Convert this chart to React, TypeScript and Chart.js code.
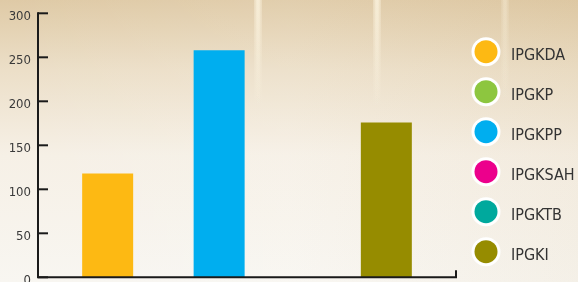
import React, { useEffect, useRef } from "react";
import { Chart, registerables } from "chart.js";

Chart.register(...registerables);

const categories: string[] = [""];
const seriesNames: string[] = ["IPGKDA", "IPGKP", "IPGKPP", "IPGKSAH", "IPGKTB", "IPGKI"];
const seriesValues: number[] = [118, 0, 258, 0, 0, 176];
const seriesColors: string[] = ["#FDB913", "#8DC63F", "#00AEEF", "#EC008C", "#00A99D", "#968C00"];
const yTicks: number[] = [0, 50, 100, 150, 200, 250, 300];

const FONT = "'DejaVu Sans Condensed', 'DejaVu Sans', sans-serif";

const backgroundPlugin = {
  id: "bgPlugin",
  beforeDraw(chart: any) {
    const ctx = chart.ctx as CanvasRenderingContext2D;
    const w = chart.width;
    const h = chart.height;
    ctx.save();
    const g = ctx.createLinearGradient(0, 0, 0, h);
    g.addColorStop(0, "#dfcaa6");
    g.addColorStop(0.25, "#ecdfc8");
    g.addColorStop(0.55, "#f6f0e6");
    g.addColorStop(1, "#f8f6f1");
    ctx.fillStyle = g;
    ctx.fillRect(0, 0, w, h);
    const g2 = ctx.createLinearGradient(0, 0, w, 0);
    g2.addColorStop(0, "rgba(255,255,255,0.0)");
    g2.addColorStop(0.5, "rgba(255,255,255,0.08)");
    g2.addColorStop(1, "rgba(200,170,120,0.08)");
    ctx.fillStyle = g2;
    ctx.fillRect(0, 0, w, h);
    // soft light streaks
    const streaks = [258, 377, 505];
    streaks.forEach((sx, i) => {
      const a = i === 2 ? 0.15 : 0.35;
      const layers = [8, 5, 3];
      layers.forEach((lw) => {
        const sg = ctx.createLinearGradient(0, 0, 0, 110);
        sg.addColorStop(0, `rgba(255,248,230,${a})`);
        sg.addColorStop(1, "rgba(255,248,230,0)");
        ctx.fillStyle = sg;
        ctx.fillRect(sx - lw / 2, 0, lw, 110);
      });
    });
    ctx.restore();
  },
};

const axesPlugin = {
  id: "axesPlugin",
  afterDatasetsDraw(chart: any) {
    const ctx = chart.ctx as CanvasRenderingContext2D;
    const area = chart.chartArea;
    const y = chart.scales.y;
    ctx.save();
    ctx.strokeStyle = "#1a1a1a";
    ctx.lineWidth = 2;
    ctx.beginPath();
    ctx.moveTo(area.left, y.getPixelForValue(300) - 1);
    ctx.lineTo(area.left, area.bottom);
    ctx.lineTo(area.right, area.bottom);
    ctx.lineTo(area.right, area.bottom - 7);
    ctx.stroke();
    yTicks.forEach((v) => {
      const py = y.getPixelForValue(v);
      ctx.beginPath();
      ctx.moveTo(area.left, py);
      ctx.lineTo(area.left + 10, py);
      ctx.stroke();
    });
    ctx.restore();
  },
};

const legendPlugin = {
  id: "customLegend",
  afterDraw(chart: any) {
    const ctx = chart.ctx as CanvasRenderingContext2D;
    ctx.save();
    chart.data.datasets.forEach((ds: any, i: number) => {
      const cx = 486;
      const cy = 51.7 + 40 * i;
      ctx.beginPath();
      ctx.arc(cx, cy, 14.5, 0, Math.PI * 2);
      ctx.fillStyle = "#ffffff";
      ctx.fill();
      ctx.beginPath();
      ctx.arc(cx, cy, 11.5, 0, Math.PI * 2);
      ctx.fillStyle = ds.backgroundColor;
      ctx.fill();
      ctx.fillStyle = "#333333";
      ctx.font = `16px ${FONT}`;
      ctx.textBaseline = "alphabetic";
      ctx.textAlign = "left";
      ctx.fillText(ds.label, 511, 60 + 40 * i);
    });
    ctx.restore();
  },
};

export default function App() {
  const canvasRef = useRef<HTMLCanvasElement | null>(null);

  useEffect(() => {
    document.body.style.margin = "0";
    const canvas = canvasRef.current;
    if (!canvas) return;
    const chart = new Chart(canvas, {
      type: "bar",
      data: {
        labels: categories,
        datasets: seriesNames.map((name, i) => ({
          label: name,
          data: [seriesValues[i]],
          backgroundColor: seriesColors[i],
          borderWidth: 0,
          categoryPercentage: 0.8,
          barPercentage: 0.915,
        })),
      },
      options: {
        animation: false,
        responsive: true,
        maintainAspectRatio: false,
        layout: { padding: { left: 0, right: 122, top: 13.3, bottom: 4.7 } },
        plugins: {
          legend: { display: false },
          tooltip: { enabled: false },
        },
        scales: {
          x: { display: false },
          y: {
            min: 0,
            max: 300,
            afterBuildTicks: (scale: any) => {
              scale.ticks = yTicks.map((v) => ({ value: v }));
            },
            grid: { display: false, drawTicks: false, tickLength: 0 },
            border: { display: false },
            ticks: {
              padding: 7,
              labelOffset: 3,
              color: "#3a3a3a",
              font: { family: FONT, size: 13 },
            },
            afterFit: (scale: any) => {
              scale.width = 38;
              scale.paddingTop = 0;
              scale.paddingBottom = 0;
            },
          },
        },
      },
      plugins: [backgroundPlugin, axesPlugin, legendPlugin],
    });
    return () => chart.destroy();
  }, []);

  return (
    <div style={{ position: "relative", width: 578, height: 282 }}>
      <canvas ref={canvasRef} />
    </div>
  );
}
